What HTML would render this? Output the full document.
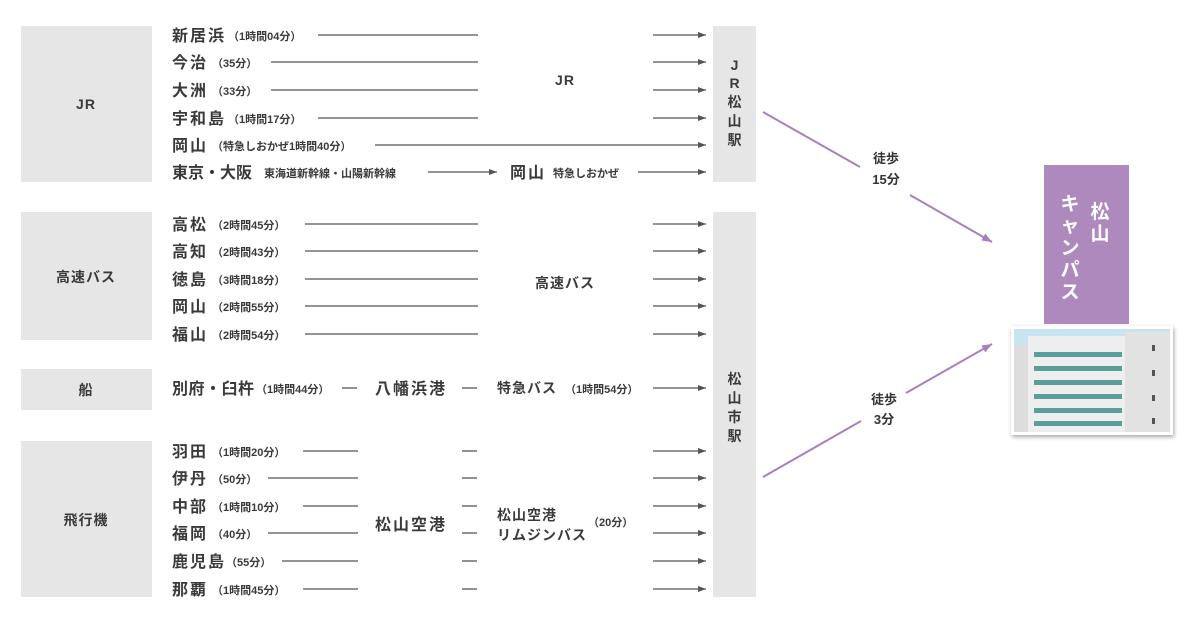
<!DOCTYPE html>
<html><head><meta charset="utf-8">
<style>
html,body{margin:0;padding:0;background:#fff;}
svg{display:block;font-family:"Liberation Sans","Noto Sans CJK JP",sans-serif;}
.n{font-size:16px;font-weight:bold;fill:#3a3a3a;letter-spacing:2px;}
.t{font-size:11px;fill:#3a3a3a;font-weight:bold;}
.m{font-size:14px;font-weight:bold;fill:#3a3a3a;letter-spacing:1px;}
.l{stroke:#555;stroke-width:1.3;}
.w{font-size:13px;fill:#333;font-weight:bold;}
</style></head><body>
<svg width="1200" height="630" viewBox="0 0 1200 630">
<defs>
<marker id="a" markerWidth="8" markerHeight="6" refX="8" refY="3" orient="auto" markerUnits="userSpaceOnUse"><path d="M0,0 L8,3 L0,6 z" fill="#555"/></marker>
<marker id="p" markerWidth="10" markerHeight="8" refX="10" refY="4" orient="auto" markerUnits="userSpaceOnUse"><path d="M0,0 L10,4 L0,8 z" fill="#a680c0"/></marker>
</defs>
<rect x="21" y="26" width="131" height="156" fill="#e6e6e6"/>
<rect x="21" y="212" width="131" height="128" fill="#e6e6e6"/>
<rect x="21" y="369" width="131" height="41" fill="#e6e6e6"/>
<rect x="21" y="441" width="131" height="156" fill="#e6e6e6"/>
<text class="m" x="86" y="109" text-anchor="middle">JR</text>
<text class="m" x="86" y="282" text-anchor="middle">高速バス</text>
<text class="m" x="86" y="395" text-anchor="middle">船</text>
<text class="m" x="86" y="525" text-anchor="middle">飛行機</text>
<rect x="713" y="26" width="43" height="156" fill="#e6e6e6"/>
<rect x="713" y="212" width="43" height="385" fill="#e6e6e6"/>
<g class="m" text-anchor="middle">
<text x="735" y="70">J</text><text x="735" y="88">R</text><text x="735" y="107">松</text><text x="735" y="126">山</text><text x="735" y="145">駅</text>
<text x="735" y="384">松</text><text x="735" y="403">山</text><text x="735" y="422">市</text><text x="735" y="441">駅</text>
</g>
<g>
<text class="n" x="172" y="41">新居浜</text><text class="t" x="228" y="40">（1時間04分）</text>
<line class="l" x1="318" y1="35" x2="478" y2="35"/><line class="l" x1="653" y1="35" x2="706" y2="35" marker-end="url(#a)"/>
<text class="n" x="172" y="68">今治</text><text class="t" x="212" y="67">（35分）</text>
<line class="l" x1="271" y1="62" x2="478" y2="62"/><line class="l" x1="653" y1="62" x2="706" y2="62" marker-end="url(#a)"/>
<text class="n" x="172" y="96">大洲</text><text class="t" x="212" y="95">（33分）</text>
<line class="l" x1="271" y1="90" x2="478" y2="90"/><line class="l" x1="653" y1="90" x2="706" y2="90" marker-end="url(#a)"/>
<text class="n" x="172" y="124">宇和島</text><text class="t" x="228" y="123">（1時間17分）</text>
<line class="l" x1="318" y1="118" x2="478" y2="118"/><line class="l" x1="653" y1="118" x2="706" y2="118" marker-end="url(#a)"/>
<text class="n" x="172" y="151">岡山</text><text class="t" x="212" y="150">（特急しおかぜ1時間40分）</text>
<line class="l" x1="375" y1="145" x2="706" y2="145" marker-end="url(#a)"/>
<text class="n" x="172" y="178" style="letter-spacing:0">東京・大阪</text><text class="t" x="264" y="177">東海道新幹線・山陽新幹線</text>
<line class="l" x1="428" y1="172" x2="497" y2="172" marker-end="url(#a)"/>
<text class="n" x="510" y="178">岡山</text><text class="t" x="553" y="177">特急しおかぜ</text>
<line class="l" x1="638" y1="172" x2="706" y2="172" marker-end="url(#a)"/>
<text class="m" x="565" y="85" text-anchor="middle">JR</text>
</g>
<g>
<text class="n" x="172" y="230">高松</text><text class="t" x="212" y="229">（2時間45分）</text>
<line class="l" x1="305" y1="224" x2="478" y2="224"/><line class="l" x1="653" y1="224" x2="706" y2="224" marker-end="url(#a)"/>
<text class="n" x="172" y="257">高知</text><text class="t" x="212" y="256">（2時間43分）</text>
<line class="l" x1="305" y1="251" x2="478" y2="251"/><line class="l" x1="653" y1="251" x2="706" y2="251" marker-end="url(#a)"/>
<text class="n" x="172" y="285">徳島</text><text class="t" x="212" y="284">（3時間18分）</text>
<line class="l" x1="305" y1="279" x2="478" y2="279"/><line class="l" x1="653" y1="279" x2="706" y2="279" marker-end="url(#a)"/>
<text class="n" x="172" y="312">岡山</text><text class="t" x="212" y="311">（2時間55分）</text>
<line class="l" x1="305" y1="306" x2="478" y2="306"/><line class="l" x1="653" y1="306" x2="706" y2="306" marker-end="url(#a)"/>
<text class="n" x="172" y="340">福山</text><text class="t" x="212" y="339">（2時間54分）</text>
<line class="l" x1="305" y1="334" x2="478" y2="334"/><line class="l" x1="653" y1="334" x2="706" y2="334" marker-end="url(#a)"/>
<text class="m" x="565" y="288" text-anchor="middle">高速バス</text>
</g>
<g>
<text class="n" x="172" y="394" style="letter-spacing:0.5px">別府・臼杵</text><text class="t" x="256" y="393">（1時間44分）</text>
<line class="l" x1="342" y1="388" x2="357" y2="388"/>
<text class="n" x="375" y="394">八幡浜港</text>
<line class="l" x1="462" y1="388" x2="477" y2="388"/>
<text class="m" x="497" y="393">特急バス</text><text class="t" x="565" y="393">（1時間54分）</text>
<line class="l" x1="653" y1="388" x2="706" y2="388" marker-end="url(#a)"/>
</g>
<g>
<text class="n" x="172" y="457">羽田</text><text class="t" x="212" y="456">（1時間20分）</text>
<line class="l" x1="303" y1="451" x2="358" y2="451"/><line class="l" x1="462" y1="451" x2="477" y2="451"/><line class="l" x1="653" y1="451" x2="706" y2="451" marker-end="url(#a)"/>
<text class="n" x="172" y="484">伊丹</text><text class="t" x="212" y="483">（50分）</text>
<line class="l" x1="268" y1="478" x2="358" y2="478"/><line class="l" x1="462" y1="478" x2="477" y2="478"/><line class="l" x1="653" y1="478" x2="706" y2="478" marker-end="url(#a)"/>
<text class="n" x="172" y="512">中部</text><text class="t" x="212" y="511">（1時間10分）</text>
<line class="l" x1="303" y1="506" x2="358" y2="506"/><line class="l" x1="462" y1="506" x2="477" y2="506"/><line class="l" x1="653" y1="506" x2="706" y2="506" marker-end="url(#a)"/>
<text class="n" x="172" y="539">福岡</text><text class="t" x="212" y="538">（40分）</text>
<line class="l" x1="268" y1="533" x2="358" y2="533"/><line class="l" x1="462" y1="533" x2="477" y2="533"/><line class="l" x1="653" y1="533" x2="706" y2="533" marker-end="url(#a)"/>
<text class="n" x="172" y="567">鹿児島</text><text class="t" x="226" y="566">（55分）</text>
<line class="l" x1="282" y1="561" x2="358" y2="561"/><line class="l" x1="462" y1="561" x2="477" y2="561"/><line class="l" x1="653" y1="561" x2="706" y2="561" marker-end="url(#a)"/>
<text class="n" x="172" y="595">那覇</text><text class="t" x="212" y="594">（1時間45分）</text>
<line class="l" x1="303" y1="589" x2="358" y2="589"/><line class="l" x1="462" y1="589" x2="477" y2="589"/><line class="l" x1="653" y1="589" x2="706" y2="589" marker-end="url(#a)"/>
<text class="n" x="375" y="530">松山空港</text>
<text class="m" x="497" y="520">松山空港</text>
<text class="m" x="497" y="540">リムジンバス</text>
<text class="t" x="588" y="526">（20分）</text>
</g>
<line x1="763" y1="112" x2="860" y2="167" stroke="#a680c0" stroke-width="2"/>
<line x1="910" y1="195" x2="992" y2="242" stroke="#a680c0" stroke-width="2" marker-end="url(#p)"/>
<text class="w" x="886" y="163" text-anchor="middle">徒歩</text>
<text class="w" x="886" y="184" text-anchor="middle">15分</text>
<line x1="763" y1="477" x2="861" y2="421" stroke="#a680c0" stroke-width="2"/>
<line x1="906" y1="393" x2="992" y2="344" stroke="#a680c0" stroke-width="2" marker-end="url(#p)"/>
<text class="w" x="884" y="404" text-anchor="middle">徒歩</text>
<text class="w" x="884" y="424" text-anchor="middle">3分</text>
<rect x="1044" y="165" width="85" height="159" fill="#ad89be"/>
<g font-size="19" font-weight="bold" fill="#fff" text-anchor="middle">
<text x="1100" y="218">松</text><text x="1100" y="240">山</text>
<text x="1070" y="210">キ</text><text x="1070" y="232">ャ</text><text x="1070" y="254">ン</text><text x="1070" y="276">パ</text><text x="1070" y="298">ス</text>
</g>
<rect x="1011" y="326" width="162" height="109" fill="#fff" style="filter:drop-shadow(1px 2px 2px rgba(0,0,0,0.35))"/>
<rect x="1014" y="329" width="156" height="103" fill="#c9e4f1"/>
<rect x="1014" y="345" width="20" height="87" fill="#ddd"/>
<rect x="1028" y="336" width="100" height="96" fill="#eeeeee"/>
<rect x="1125" y="332" width="45" height="100" fill="#e2e2e2"/>
<g fill="#5a9e99">
<rect x="1034" y="352" width="88" height="5"/><rect x="1034" y="366" width="88" height="5"/><rect x="1034" y="380" width="88" height="5"/><rect x="1034" y="394" width="88" height="5"/><rect x="1034" y="408" width="88" height="5"/><rect x="1034" y="421" width="88" height="5"/>
</g>
<g fill="#555"><rect x="1152" y="345" width="3" height="6"/><rect x="1152" y="370" width="3" height="6"/><rect x="1152" y="395" width="3" height="6"/><rect x="1152" y="418" width="3" height="6"/></g>
</svg>
</body></html>
